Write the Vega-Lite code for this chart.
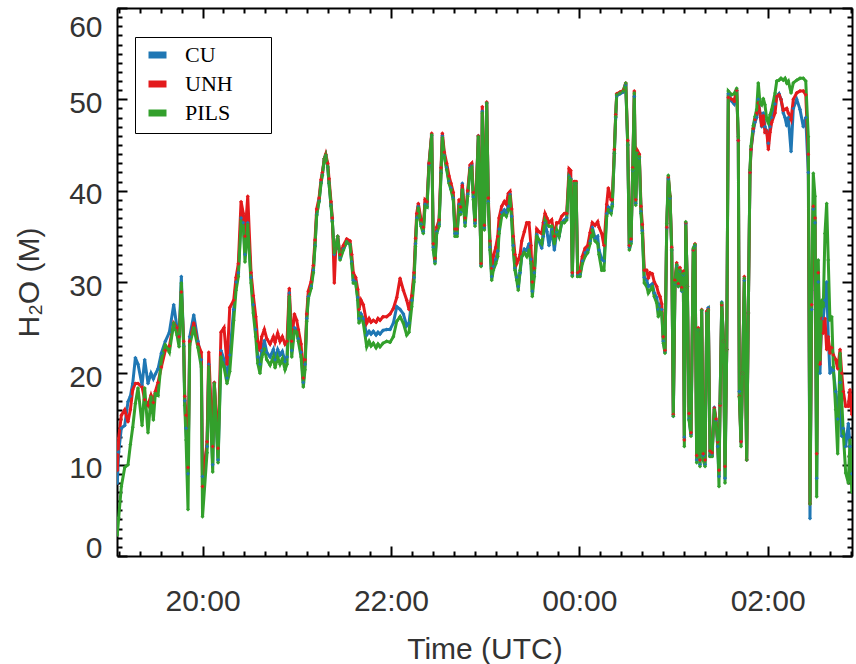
{
  "$schema": "https://vega.github.io/schema/vega-lite/v6.json",
  "width": 735,
  "height": 548,
  "autosize": {"type": "none"},
  "padding": {"left": 117, "top": 8, "right": 4, "bottom": 108},
  "background": "white",
  "config": {
    "view": {"stroke": null},
    "axis": {
      "domainColor": "black", "domainWidth": 2, "tickColor": "black", "tickWidth": 2, "grid": false,
      "labelFont": "Liberation Sans", "labelFontSize": 30, "labelColor": "#333333",
      "titleFont": "Liberation Sans", "titleFontSize": 30, "titleFontWeight": "normal", "titleColor": "#333333",
      "labelOverlap": false, "labelFlush": false
    }
  },
  "layer": [
    {
      "data": {"values": [
{"t":19.095,"CU":8,"UNH":9.4,"PILS":2.3},
{"t":19.110,"CU":11.4,"UNH":12.9,"PILS":4.2},
{"t":19.138,"CU":14,"UNH":15.4,"PILS":7.6},
{"t":19.174,"CU":14.3,"UNH":16,"PILS":9.7},
{"t":19.209,"CU":16.9,"UNH":14.7,"PILS":10},
{"t":19.234,"CU":17.5,"UNH":16,"PILS":12.2},
{"t":19.259,"CU":18.9,"UNH":18.2,"PILS":14.1},
{"t":19.287,"CU":21.7,"UNH":18.9,"PILS":16.7},
{"t":19.315,"CU":21,"UNH":18.9,"PILS":18.4},
{"t":19.358,"CU":18.7,"UNH":18.5,"PILS":14.3},
{"t":19.386,"CU":21.5,"UNH":17.1,"PILS":18.4},
{"t":19.421,"CU":18.9,"UNH":16.5,"PILS":13.5},
{"t":19.453,"CU":20,"UNH":17.6,"PILS":17.4},
{"t":19.478,"CU":19.4,"UNH":16.8,"PILS":14.9},
{"t":19.499,"CU":19.9,"UNH":18,"PILS":17.8},
{"t":19.528,"CU":20.5,"UNH":19,"PILS":17.6},
{"t":19.563,"CU":22.2,"UNH":20.7,"PILS":21.5},
{"t":19.605,"CU":23.5,"UNH":22.5,"PILS":23.1},
{"t":19.648,"CU":24.5,"UNH":23,"PILS":22.3},
{"t":19.694,"CU":27.5,"UNH":25.5,"PILS":25.5},
{"t":19.729,"CU":25,"UNH":25,"PILS":24.2},
{"t":19.751,"CU":24,"UNH":24,"PILS":22.9},
{"t":19.775,"CU":30.6,"UNH":28.9,"PILS":29.9},
{"t":19.800,"CU":23,"UNH":23.5,"PILS":22.9},
{"t":19.811,"CU":17,"UNH":17.5,"PILS":16.5},
{"t":19.825,"CU":14,"UNH":15.4,"PILS":12.7},
{"t":19.846,"CU":9,"UNH":9.7,"PILS":5.1},
{"t":19.864,"CU":24,"UNH":23.5,"PILS":23.1},
{"t":19.907,"CU":26.4,"UNH":25.5,"PILS":25},
{"t":19.952,"CU":23.5,"UNH":23.2,"PILS":22.8},
{"t":19.987,"CU":21.5,"UNH":22.3,"PILS":20.7},
{"t":20.000,"CU":8.7,"UNH":7.6,"PILS":4.3},
{"t":20.048,"CU":12,"UNH":12.5,"PILS":11.3},
{"t":20.066,"CU":21,"UNH":22.3,"PILS":20.7},
{"t":20.108,"CU":10,"UNH":12,"PILS":9.2},
{"t":20.125,"CU":19,"UNH":19,"PILS":18.9},
{"t":20.165,"CU":10.5,"UNH":11.8,"PILS":10.2},
{"t":20.196,"CU":22.5,"UNH":24.5,"PILS":21.8},
{"t":20.228,"CU":21.5,"UNH":25,"PILS":20.7},
{"t":20.260,"CU":19.5,"UNH":21,"PILS":18.9},
{"t":20.289,"CU":22,"UNH":27.2,"PILS":20.2},
{"t":20.331,"CU":27,"UNH":28,"PILS":25.8},
{"t":20.356,"CU":30,"UNH":30.5,"PILS":29.1},
{"t":20.380,"CU":31,"UNH":32,"PILS":30.6},
{"t":20.409,"CU":37,"UNH":38.8,"PILS":36.6},
{"t":20.433,"CU":36.5,"UNH":37.5,"PILS":36.1},
{"t":20.451,"CU":33,"UNH":35,"PILS":32.2},
{"t":20.480,"CU":36.5,"UNH":39.4,"PILS":36.3},
{"t":20.515,"CU":30.5,"UNH":31,"PILS":29.9},
{"t":20.539,"CU":27.5,"UNH":28.5,"PILS":26.6},
{"t":20.565,"CU":24.8,"UNH":26.2,"PILS":24},
{"t":20.586,"CU":21.8,"UNH":23.5,"PILS":21.1},
{"t":20.610,"CU":21,"UNH":22.5,"PILS":20},
{"t":20.628,"CU":22.5,"UNH":24,"PILS":21.7},
{"t":20.656,"CU":23.6,"UNH":24.8,"PILS":22.7},
{"t":20.682,"CU":22.3,"UNH":23.8,"PILS":21.5},
{"t":20.717,"CU":21.8,"UNH":23.2,"PILS":20.9},
{"t":20.752,"CU":22.6,"UNH":24,"PILS":21.8},
{"t":20.770,"CU":21.5,"UNH":23.4,"PILS":20.6},
{"t":20.798,"CU":22.6,"UNH":24.4,"PILS":21.8},
{"t":20.823,"CU":22,"UNH":23.5,"PILS":21},
{"t":20.847,"CU":22.4,"UNH":24,"PILS":21.6},
{"t":20.876,"CU":21.3,"UNH":23.2,"PILS":20.4},
{"t":20.897,"CU":21.8,"UNH":23.5,"PILS":21},
{"t":20.921,"CU":28.8,"UNH":29.3,"PILS":28.4},
{"t":20.947,"CU":22.5,"UNH":23.5,"PILS":21.8},
{"t":20.975,"CU":25,"UNH":26.5,"PILS":24.6},
{"t":21.000,"CU":24.8,"UNH":25.8,"PILS":24.6},
{"t":21.017,"CU":23.8,"UNH":24.8,"PILS":23.5},
{"t":21.046,"CU":22.3,"UNH":23.2,"PILS":21.8},
{"t":21.070,"CU":19,"UNH":19.5,"PILS":18.5},
{"t":21.088,"CU":21,"UNH":21.5,"PILS":20.4},
{"t":21.106,"CU":26,"UNH":26.5,"PILS":25.7},
{"t":21.123,"CU":28.4,"UNH":29,"PILS":28.2},
{"t":21.152,"CU":29.5,"UNH":30,"PILS":29.3},
{"t":21.176,"CU":31.3,"UNH":31.8,"PILS":31},
{"t":21.194,"CU":34,"UNH":34.6,"PILS":33.9},
{"t":21.212,"CU":37.4,"UNH":38,"PILS":37.3},
{"t":21.237,"CU":38.9,"UNH":39.2,"PILS":38.8},
{"t":21.258,"CU":40.9,"UNH":41.2,"PILS":40.8},
{"t":21.272,"CU":41.8,"UNH":42,"PILS":41.7},
{"t":21.293,"CU":43.5,"UNH":43.5,"PILS":43.5},
{"t":21.308,"CU":43.9,"UNH":44,"PILS":43.9},
{"t":21.329,"CU":42.6,"UNH":43,"PILS":42.6},
{"t":21.343,"CU":40.8,"UNH":41.3,"PILS":40.8},
{"t":21.364,"CU":38.4,"UNH":38.8,"PILS":38.3},
{"t":21.378,"CU":36.7,"UNH":37,"PILS":36.6},
{"t":21.399,"CU":33,"UNH":29.9,"PILS":33.2},
{"t":21.414,"CU":33.6,"UNH":33.6,"PILS":33.6},
{"t":21.435,"CU":35,"UNH":35,"PILS":35},
{"t":21.460,"CU":32.6,"UNH":33,"PILS":32.4},
{"t":21.495,"CU":33.6,"UNH":34,"PILS":33.5},
{"t":21.531,"CU":34.4,"UNH":34.7,"PILS":34.4},
{"t":21.566,"CU":34.1,"UNH":34.5,"PILS":34.1},
{"t":21.584,"CU":32.2,"UNH":33,"PILS":32},
{"t":21.601,"CU":30.2,"UNH":31,"PILS":29.9},
{"t":21.626,"CU":30,"UNH":30.5,"PILS":29.9},
{"t":21.648,"CU":28.3,"UNH":29.2,"PILS":28},
{"t":21.661,"CU":26,"UNH":27,"PILS":25.5},
{"t":21.683,"CU":26.5,"UNH":28,"PILS":26.2},
{"t":21.707,"CU":26,"UNH":27.5,"PILS":25.5},
{"t":21.743,"CU":24.2,"UNH":25.5,"PILS":22.9},
{"t":21.768,"CU":24.6,"UNH":26,"PILS":23.5},
{"t":21.789,"CU":24.3,"UNH":25.6,"PILS":23},
{"t":21.813,"CU":24.6,"UNH":25.8,"PILS":23.3},
{"t":21.842,"CU":24.2,"UNH":25.6,"PILS":22.8},
{"t":21.863,"CU":24.5,"UNH":26,"PILS":23.2},
{"t":21.884,"CU":24.3,"UNH":25.8,"PILS":22.9},
{"t":21.916,"CU":24.7,"UNH":26.2,"PILS":23.3},
{"t":21.955,"CU":24.8,"UNH":26.2,"PILS":23.5},
{"t":21.991,"CU":24.8,"UNH":26.5,"PILS":23.4},
{"t":22.026,"CU":25.5,"UNH":27.1,"PILS":24},
{"t":22.062,"CU":27.3,"UNH":28.3,"PILS":25.7},
{"t":22.097,"CU":27,"UNH":30.4,"PILS":26.2},
{"t":22.132,"CU":26.5,"UNH":29.1,"PILS":25.5},
{"t":22.168,"CU":25.2,"UNH":28,"PILS":24.2},
{"t":22.192,"CU":25.5,"UNH":27,"PILS":24.5},
{"t":22.221,"CU":28,"UNH":28.5,"PILS":27.3},
{"t":22.245,"CU":30.5,"UNH":31,"PILS":30},
{"t":22.261,"CU":34.2,"UNH":34.8,"PILS":33.9},
{"t":22.274,"CU":37,"UNH":37.5,"PILS":36.8},
{"t":22.291,"CU":38.3,"UNH":38.6,"PILS":38.1},
{"t":22.320,"CU":36.3,"UNH":36.8,"PILS":36.1},
{"t":22.344,"CU":35.5,"UNH":36,"PILS":35.3},
{"t":22.362,"CU":38.5,"UNH":39,"PILS":38.3},
{"t":22.383,"CU":38.3,"UNH":38.8,"PILS":38.2},
{"t":22.404,"CU":42.8,"UNH":43,"PILS":42.6},
{"t":22.433,"CU":46.1,"UNH":46.3,"PILS":46.1},
{"t":22.450,"CU":33.8,"UNH":34.2,"PILS":33.5},
{"t":22.468,"CU":32.2,"UNH":32.6,"PILS":32},
{"t":22.486,"CU":35.5,"UNH":36,"PILS":35.3},
{"t":22.511,"CU":36.3,"UNH":36.8,"PILS":36.1},
{"t":22.532,"CU":42,"UNH":42.5,"PILS":41.9},
{"t":22.546,"CU":46,"UNH":46.3,"PILS":45.8},
{"t":22.567,"CU":43.8,"UNH":44.2,"PILS":43.7},
{"t":22.592,"CU":42.5,"UNH":43,"PILS":42.3},
{"t":22.617,"CU":41,"UNH":41.6,"PILS":40.8},
{"t":22.638,"CU":40.3,"UNH":40.8,"PILS":40.1},
{"t":22.662,"CU":39.2,"UNH":39.8,"PILS":39},
{"t":22.681,"CU":35.3,"UNH":35.8,"PILS":35},
{"t":22.702,"CU":35.3,"UNH":35.8,"PILS":35},
{"t":22.723,"CU":38.5,"UNH":39,"PILS":38.3},
{"t":22.741,"CU":37.6,"UNH":38.2,"PILS":37.4},
{"t":22.758,"CU":40.8,"UNH":40.6,"PILS":40.1},
{"t":22.787,"CU":36.5,"UNH":37,"PILS":36.1},
{"t":22.815,"CU":39.6,"UNH":40,"PILS":39.4},
{"t":22.840,"CU":42.5,"UNH":42.8,"PILS":42.3},
{"t":22.858,"CU":42.8,"UNH":43,"PILS":42.6},
{"t":22.875,"CU":39.3,"UNH":39.8,"PILS":39},
{"t":22.893,"CU":36.4,"UNH":36.8,"PILS":36.1},
{"t":22.928,"CU":46,"UNH":46,"PILS":45.9},
{"t":22.957,"CU":31.8,"UNH":32,"PILS":31.7},
{"t":22.970,"CU":48.7,"UNH":49.2,"PILS":48.5},
{"t":22.992,"CU":35.9,"UNH":36.2,"PILS":35.7},
{"t":23.017,"CU":49.6,"UNH":49.7,"PILS":49.6},
{"t":23.034,"CU":38.8,"UNH":39.2,"PILS":38.6},
{"t":23.052,"CU":33.8,"UNH":34.5,"PILS":33.5},
{"t":23.070,"CU":30.6,"UNH":31.5,"PILS":30.2},
{"t":23.087,"CU":31.7,"UNH":32.8,"PILS":31.3},
{"t":23.113,"CU":32.5,"UNH":33.8,"PILS":32},
{"t":23.134,"CU":33.4,"UNH":35,"PILS":32.8},
{"t":23.148,"CU":35.8,"UNH":37,"PILS":35.3},
{"t":23.176,"CU":37.6,"UNH":38.3,"PILS":37.2},
{"t":23.204,"CU":37.9,"UNH":38.8,"PILS":37.5},
{"t":23.225,"CU":37.6,"UNH":38.5,"PILS":37.2},
{"t":23.246,"CU":38.3,"UNH":39.7,"PILS":37.9},
{"t":23.264,"CU":39.6,"UNH":39.9,"PILS":39.4},
{"t":23.282,"CU":37.2,"UNH":38,"PILS":36.8},
{"t":23.299,"CU":34,"UNH":35,"PILS":33.5},
{"t":23.317,"CU":31.5,"UNH":33,"PILS":31.3},
{"t":23.336,"CU":30.5,"UNH":32,"PILS":30.2},
{"t":23.352,"CU":29.5,"UNH":32.4,"PILS":29.1},
{"t":23.371,"CU":31,"UNH":33,"PILS":31.3},
{"t":23.389,"CU":32.8,"UNH":34.5,"PILS":32.8},
{"t":23.416,"CU":33.6,"UNH":35.5,"PILS":33.2},
{"t":23.442,"CU":33.5,"UNH":36.5,"PILS":32.8},
{"t":23.466,"CU":34.2,"UNH":36.5,"PILS":33.5},
{"t":23.487,"CU":32.5,"UNH":34,"PILS":32},
{"t":23.501,"CU":29,"UNH":30,"PILS":28.4},
{"t":23.522,"CU":31,"UNH":31.5,"PILS":30.6},
{"t":23.548,"CU":35.2,"UNH":35.8,"PILS":35},
{"t":23.572,"CU":34.5,"UNH":35.5,"PILS":34.6},
{"t":23.601,"CU":33.7,"UNH":35.3,"PILS":34.2},
{"t":23.618,"CU":35,"UNH":36.5,"PILS":35.3},
{"t":23.636,"CU":36.5,"UNH":37.5,"PILS":36.8},
{"t":23.657,"CU":35.5,"UNH":37,"PILS":36.4},
{"t":23.678,"CU":34,"UNH":36.5,"PILS":36.1},
{"t":23.707,"CU":35.8,"UNH":36.8,"PILS":36.1},
{"t":23.735,"CU":33.5,"UNH":35,"PILS":34.2},
{"t":23.760,"CU":35.5,"UNH":36.5,"PILS":35.7},
{"t":23.785,"CU":35,"UNH":36.5,"PILS":35},
{"t":23.813,"CU":36.5,"UNH":37.2,"PILS":36.5},
{"t":23.841,"CU":36.8,"UNH":37.5,"PILS":36.5},
{"t":23.866,"CU":37,"UNH":37.5,"PILS":36.8},
{"t":23.891,"CU":41.6,"UNH":42.4,"PILS":41.5},
{"t":23.909,"CU":41.3,"UNH":42.2,"PILS":41.2},
{"t":23.926,"CU":30.7,"UNH":31,"PILS":30.6},
{"t":23.947,"CU":40.8,"UNH":41,"PILS":40.8},
{"t":23.965,"CU":40.8,"UNH":41,"PILS":40.8},
{"t":23.983,"CU":30.7,"UNH":31,"PILS":30.6},
{"t":24.007,"CU":30.8,"UNH":31.2,"PILS":30.6},
{"t":24.032,"CU":32.3,"UNH":32.8,"PILS":32},
{"t":24.061,"CU":33.2,"UNH":33.7,"PILS":32.8},
{"t":24.089,"CU":33.5,"UNH":34,"PILS":33.2},
{"t":24.114,"CU":34.5,"UNH":35.4,"PILS":34.2},
{"t":24.138,"CU":36,"UNH":36.5,"PILS":35.7},
{"t":24.167,"CU":34.8,"UNH":36.2,"PILS":34.5},
{"t":24.195,"CU":35,"UNH":36.6,"PILS":34.2},
{"t":24.209,"CU":33.5,"UNH":36,"PILS":33},
{"t":24.238,"CU":32.5,"UNH":35.3,"PILS":31.3},
{"t":24.262,"CU":32.3,"UNH":34,"PILS":31.3},
{"t":24.291,"CU":37.5,"UNH":38.5,"PILS":37.2},
{"t":24.308,"CU":38.2,"UNH":40.3,"PILS":37.9},
{"t":24.337,"CU":37.8,"UNH":39,"PILS":37.5},
{"t":24.350,"CU":38.5,"UNH":39,"PILS":38.3},
{"t":24.372,"CU":44.1,"UNH":44.5,"PILS":44.1},
{"t":24.386,"CU":48,"UNH":48.3,"PILS":48.1},
{"t":24.397,"CU":50.4,"UNH":50.6,"PILS":50.5},
{"t":24.432,"CU":50.6,"UNH":50.8,"PILS":50.7},
{"t":24.467,"CU":50.8,"UNH":51,"PILS":50.9},
{"t":24.493,"CU":51.6,"UNH":51.8,"PILS":51.8},
{"t":24.514,"CU":45,"UNH":45.5,"PILS":45},
{"t":24.531,"CU":33.8,"UNH":34,"PILS":33.5},
{"t":24.549,"CU":34.4,"UNH":34.7,"PILS":34.2},
{"t":24.567,"CU":42.2,"UNH":42.5,"PILS":42.3},
{"t":24.584,"CU":50.3,"UNH":50.9,"PILS":50.7},
{"t":24.599,"CU":38.6,"UNH":39,"PILS":38.4},
{"t":24.616,"CU":44.1,"UNH":44.4,"PILS":44.1},
{"t":24.637,"CU":43.6,"UNH":44,"PILS":43.7},
{"t":24.655,"CU":37.7,"UNH":38.3,"PILS":37.5},
{"t":24.669,"CU":35.6,"UNH":36.3,"PILS":35.3},
{"t":24.690,"CU":30.5,"UNH":31.3,"PILS":29.9},
{"t":24.716,"CU":30.2,"UNH":31.3,"PILS":29.5},
{"t":24.733,"CU":29.5,"UNH":30.4,"PILS":28.8},
{"t":24.751,"CU":29.6,"UNH":31,"PILS":29.1},
{"t":24.775,"CU":29.8,"UNH":30.9,"PILS":29.5},
{"t":24.796,"CU":28.8,"UNH":30,"PILS":28.4},
{"t":24.822,"CU":28.3,"UNH":29.5,"PILS":27.7},
{"t":24.839,"CU":27,"UNH":28.8,"PILS":26.2},
{"t":24.857,"CU":27.5,"UNH":28.4,"PILS":26.9},
{"t":24.875,"CU":27,"UNH":27.6,"PILS":26.6},
{"t":24.892,"CU":23.5,"UNH":24,"PILS":23.3},
{"t":24.910,"CU":22.3,"UNH":22.5,"PILS":22.2},
{"t":24.928,"CU":35.9,"UNH":36,"PILS":36.4},
{"t":24.945,"CU":41.3,"UNH":41.5,"PILS":41.7},
{"t":24.963,"CU":39.2,"UNH":39.4,"PILS":39.4},
{"t":24.981,"CU":33.5,"UNH":33.8,"PILS":33.5},
{"t":24.998,"CU":15.3,"UNH":15.5,"PILS":15.3},
{"t":25.016,"CU":29.8,"UNH":30.2,"PILS":29.9},
{"t":25.034,"CU":31.8,"UNH":32.1,"PILS":31.9},
{"t":25.051,"CU":29.5,"UNH":29.8,"PILS":29.5},
{"t":25.069,"CU":31.2,"UNH":31.6,"PILS":31.3},
{"t":25.087,"CU":29,"UNH":29.4,"PILS":29.1},
{"t":25.104,"CU":30.8,"UNH":31.2,"PILS":30.9},
{"t":25.115,"CU":13,"UNH":12.7,"PILS":12},
{"t":25.130,"CU":36.4,"UNH":36.5,"PILS":36.6},
{"t":25.147,"CU":29.5,"UNH":29.5,"PILS":29.5},
{"t":25.165,"CU":15,"UNH":15.6,"PILS":14.9},
{"t":25.186,"CU":13.3,"UNH":13.5,"PILS":13.1},
{"t":25.210,"CU":33.5,"UNH":33.5,"PILS":33.7},
{"t":25.228,"CU":34,"UNH":34.2,"PILS":34.1},
{"t":25.246,"CU":10.5,"UNH":11,"PILS":10.2},
{"t":25.263,"CU":24.8,"UNH":25,"PILS":24.8},
{"t":25.281,"CU":10,"UNH":10.5,"PILS":9.8},
{"t":25.299,"CU":26.9,"UNH":27,"PILS":26.9},
{"t":25.316,"CU":11,"UNH":11.2,"PILS":10.5},
{"t":25.335,"CU":10,"UNH":10.5,"PILS":9.8},
{"t":25.353,"CU":26.6,"UNH":26.8,"PILS":26.6},
{"t":25.369,"CU":27.2,"UNH":27,"PILS":26.9},
{"t":25.388,"CU":11,"UNH":11.5,"PILS":10.9},
{"t":25.409,"CU":11,"UNH":11.3,"PILS":10.9},
{"t":25.433,"CU":16.3,"UNH":16.2,"PILS":16},
{"t":25.451,"CU":14.8,"UNH":15,"PILS":14.6},
{"t":25.469,"CU":12,"UNH":12.5,"PILS":12.7},
{"t":25.483,"CU":8.7,"UNH":9.4,"PILS":7.6},
{"t":25.494,"CU":16.7,"UNH":16.5,"PILS":16.7},
{"t":25.512,"CU":27.8,"UNH":27.5,"PILS":27.7},
{"t":25.531,"CU":23.5,"UNH":23.5,"PILS":23.5},
{"t":25.547,"CU":8.5,"UNH":9.8,"PILS":8},
{"t":25.565,"CU":22.6,"UNH":22.6,"PILS":22.6},
{"t":25.582,"CU":50.6,"UNH":50.2,"PILS":50.9},
{"t":25.618,"CU":49.8,"UNH":50,"PILS":50.5},
{"t":25.643,"CU":49.5,"UNH":49.8,"PILS":50.6},
{"t":25.671,"CU":51,"UNH":51,"PILS":51.2},
{"t":25.688,"CU":45.5,"UNH":45.5,"PILS":45.9},
{"t":25.699,"CU":18,"UNH":17.5,"PILS":17.4},
{"t":25.717,"CU":12.5,"UNH":12.5,"PILS":12},
{"t":25.733,"CU":20,"UNH":20,"PILS":20},
{"t":25.752,"CU":30.2,"UNH":30.6,"PILS":30.4},
{"t":25.777,"CU":10.5,"UNH":10.5,"PILS":10.5},
{"t":25.794,"CU":26.6,"UNH":26.6,"PILS":26.6},
{"t":25.812,"CU":42,"UNH":42,"PILS":42.3},
{"t":25.823,"CU":44.5,"UNH":44.5,"PILS":44.9},
{"t":25.847,"CU":46.5,"UNH":46.8,"PILS":47.1},
{"t":25.865,"CU":47.5,"UNH":47.8,"PILS":48.1},
{"t":25.883,"CU":48,"UNH":48.5,"PILS":48.9},
{"t":25.900,"CU":50,"UNH":49.6,"PILS":51.8},
{"t":25.918,"CU":48.5,"UNH":48.5,"PILS":49.6},
{"t":25.936,"CU":47,"UNH":47.1,"PILS":49.4},
{"t":25.953,"CU":48.5,"UNH":48.2,"PILS":50.1},
{"t":25.971,"CU":47,"UNH":46.4,"PILS":49.4},
{"t":25.990,"CU":46.5,"UNH":46.5,"PILS":47.8},
{"t":26.007,"CU":45.2,"UNH":44.5,"PILS":47.4},
{"t":26.025,"CU":47,"UNH":46.4,"PILS":48.3},
{"t":26.043,"CU":48,"UNH":47.5,"PILS":48.9},
{"t":26.078,"CU":49.5,"UNH":48.5,"PILS":50.7},
{"t":26.096,"CU":50.3,"UNH":50.3,"PILS":52},
{"t":26.120,"CU":50.6,"UNH":50.5,"PILS":52.1},
{"t":26.141,"CU":50,"UNH":50,"PILS":52.3},
{"t":26.166,"CU":48.5,"UNH":48.8,"PILS":52.1},
{"t":26.184,"CU":48,"UNH":48.9,"PILS":52.3},
{"t":26.202,"CU":47.1,"UNH":49,"PILS":51.8},
{"t":26.219,"CU":48,"UNH":48.5,"PILS":52},
{"t":26.248,"CU":44.3,"UNH":47.8,"PILS":50.7},
{"t":26.272,"CU":49,"UNH":50,"PILS":51.8},
{"t":26.308,"CU":50,"UNH":50.7,"PILS":52.1},
{"t":26.343,"CU":48.9,"UNH":50.9,"PILS":52.3},
{"t":26.378,"CU":47,"UNH":50.9,"PILS":52.3},
{"t":26.404,"CU":48,"UNH":50.5,"PILS":52},
{"t":26.431,"CU":42,"UNH":44,"PILS":45.9},
{"t":26.449,"CU":4.1,"UNH":5.7,"PILS":5.7},
{"t":26.467,"CU":27,"UNH":27.5,"PILS":29.1},
{"t":26.484,"CU":38,"UNH":38.3,"PILS":41.9},
{"t":26.502,"CU":36.5,"UNH":37,"PILS":39.4},
{"t":26.520,"CU":8.5,"UNH":11.2,"PILS":6.5},
{"t":26.537,"CU":30,"UNH":31,"PILS":32.4},
{"t":26.555,"CU":20,"UNH":21,"PILS":21.5},
{"t":26.573,"CU":26,"UNH":26,"PILS":28},
{"t":26.590,"CU":26,"UNH":24.4,"PILS":27.3},
{"t":26.608,"CU":28,"UNH":26,"PILS":35.3},
{"t":26.626,"CU":30,"UNH":22.6,"PILS":38.6},
{"t":26.643,"CU":24,"UNH":24,"PILS":32.4},
{"t":26.661,"CU":20,"UNH":22.2,"PILS":25.8},
{"t":26.680,"CU":20.5,"UNH":22.8,"PILS":26.2},
{"t":26.697,"CU":20.3,"UNH":22,"PILS":20.7},
{"t":26.722,"CU":18,"UNH":21.5,"PILS":16},
{"t":26.743,"CU":15,"UNH":20.5,"PILS":11.2},
{"t":26.768,"CU":19,"UNH":22.6,"PILS":22.2},
{"t":26.786,"CU":13.1,"UNH":20,"PILS":17},
{"t":26.803,"CU":14,"UNH":18,"PILS":13.4},
{"t":26.828,"CU":12,"UNH":16.4,"PILS":9.1},
{"t":26.856,"CU":14.5,"UNH":16.4,"PILS":8},
{"t":26.874,"CU":12,"UNH":18.2,"PILS":12.7},
{"t":26.893,"CU":9,"UNH":15.5,"PILS":7}
      ]},
      "transform": [{"fold": ["CU", "UNH", "PILS"], "as": ["series", "value"]}],
      "mark": {"type": "line", "strokeWidth": 3, "clip": true, "point": {"shape": "diamond", "size": 16, "filled": true}},
      "encoding": {
        "x": {
          "field": "t", "type": "quantitative",
          "scale": {"domain": [19.092, 26.895], "nice": false, "zero": false},
          "axis": {
            "orient": "bottom",
            "values": [19.1111,19.3333,19.5556,19.7778,20,20.2222,20.4444,20.6667,20.8889,21.1111,21.3333,21.5556,21.7778,22,22.2222,22.4444,22.6667,22.8889,23.1111,23.3333,23.5556,23.7778,24,24.2222,24.4444,24.6667,24.8889,25.1111,25.3333,25.5556,25.7778,26,26.2222,26.4444,26.6667,26.8889],
            "labelExpr": "(abs(datum.value - round(datum.value)) < 0.001 && round(datum.value) % 2 == 0) ? ((round(datum.value) % 24 < 10 ? '0' : '') + (round(datum.value) % 24) + ':00') : ''",
            "tickSize": {"condition": {"test": "abs(datum.value - round(datum.value)) < 0.001 && round(datum.value) % 2 == 0", "value": -10}, "value": -5},
            "labelPadding": 40,
            "title": "Time (UTC)",
            "titlePadding": 13
          }
        },
        "y": {
          "field": "value", "type": "quantitative",
          "scale": {"domain": [0, 60], "nice": false},
          "axis": {
            "orient": "left",
            "values": [0,1,2,3,4,5,6,7,8,9,10,11,12,13,14,15,16,17,18,19,20,21,22,23,24,25,26,27,28,29,30,31,32,33,34,35,36,37,38,39,40,41,42,43,44,45,46,47,48,49,50,51,52,53,54,55,56,57,58,59,60],
            "labelExpr": "datum.value % 10 == 0 ? datum.label : ''",
            "tickSize": {"condition": {"test": "datum.value % 10 == 0", "value": -10}, "value": -5},
            "labelPadding": 25,
            "labelOffset": {"condition": [{"test": "datum.value == 60", "value": 19}, {"test": "datum.value == 0", "value": -8}], "value": 4},
            "title": "H₂O (M)",
            "titlePadding": 24
          }
        },
        "color": {
          "field": "series", "type": "nominal",
          "scale": {"domain": ["CU", "UNH", "PILS"], "range": ["#1f77b4", "#e31a1c", "#33a02c"]},
          "legend": {
            "orient": "none", "legendX": 18, "legendY": 29, "title": null,
            "symbolType": "stroke", "symbolStrokeWidth": 7, "symbolSize": 324, "symbolOpacity": 1, "symbolOffset": 4.5,
            "labelFont": "Liberation Serif", "labelFontSize": 22, "labelColor": "black", "labelOffset": 15,
            "labelExpr": "datum.label + '\u2800\u2800'",
            "strokeColor": "black", "fillColor": "white", "padding": 5.5, "rowPadding": 0
          }
        }
      }
    },
    {
      "data": {"values": [{"t": 20, "value": 10}]},
      "mark": {"type": "point", "opacity": 0},
      "encoding": {
        "x": {
          "field": "t", "type": "quantitative",
          "scale": {"domain": [19.092, 26.895], "nice": false, "zero": false},
          "axis": {
            "orient": "top", "labels": false, "title": null,
            "values": [19.1111,19.3333,19.5556,19.7778,20,20.2222,20.4444,20.6667,20.8889,21.1111,21.3333,21.5556,21.7778,22,22.2222,22.4444,22.6667,22.8889,23.1111,23.3333,23.5556,23.7778,24,24.2222,24.4444,24.6667,24.8889,25.1111,25.3333,25.5556,25.7778,26,26.2222,26.4444,26.6667,26.8889],
            "tickSize": {"condition": {"test": "abs(datum.value - round(datum.value)) < 0.001 && round(datum.value) % 2 == 0", "value": -10}, "value": -5}
          }
        },
        "y": {
          "field": "value", "type": "quantitative",
          "scale": {"domain": [0, 60], "nice": false},
          "axis": {
            "orient": "right", "labels": false, "title": null,
            "values": [0,1,2,3,4,5,6,7,8,9,10,11,12,13,14,15,16,17,18,19,20,21,22,23,24,25,26,27,28,29,30,31,32,33,34,35,36,37,38,39,40,41,42,43,44,45,46,47,48,49,50,51,52,53,54,55,56,57,58,59,60],
            "tickSize": {"condition": {"test": "datum.value % 10 == 0", "value": -10}, "value": -5}
          }
        }
      }
    }
  ],
  "resolve": {"axis": {"x": "independent", "y": "independent"}}
}
